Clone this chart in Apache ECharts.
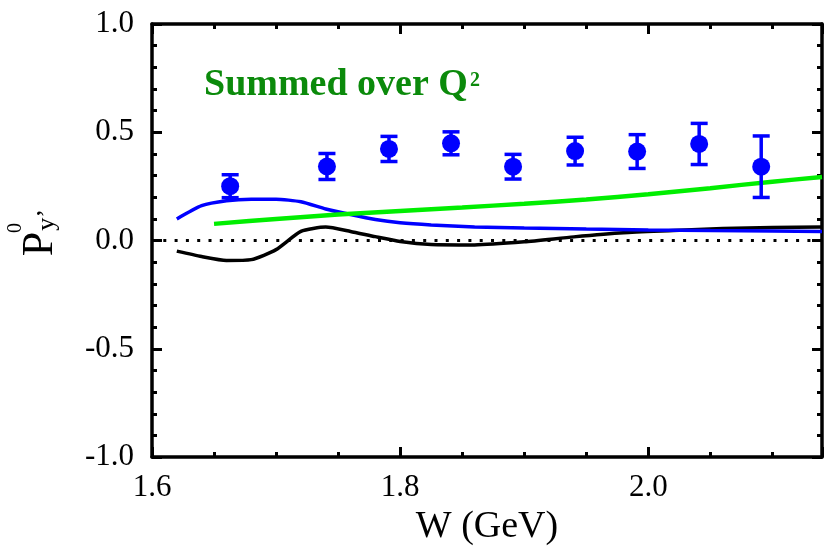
<!DOCTYPE html>
<html>
<head>
<meta charset="utf-8">
<style>
  html, body { margin: 0; padding: 0; background: #fff; }
  #chart { width: 825px; height: 551px; }
</style>
<script src="https://cdn.jsdelivr.net/npm/echarts@6/dist/echarts.min.js"></script>
</head>
<body>
<div id="chart"></div>
<script>
// Measured polarization P_y'^0 versus W, summed over Q^2
const dataW   = [1.663, 1.741, 1.791, 1.841, 1.891, 1.941, 1.991, 2.041, 2.091];
const dataP   = [0.251, 0.342, 0.423, 0.449, 0.341, 0.413, 0.411, 0.446, 0.341];
const dataErr = [0.053, 0.060, 0.058, 0.053, 0.057, 0.064, 0.078, 0.095, 0.142];

// Model curves
const blueW  = [1.620, 1.640, 1.660, 1.680, 1.700, 1.720, 1.740, 1.760, 1.780, 1.800, 1.825, 1.860, 1.900, 1.950, 2.000, 2.050, 2.100, 2.140];
const blueP  = [0.100, 0.161, 0.184, 0.191, 0.191, 0.179, 0.146, 0.120, 0.097, 0.082, 0.072, 0.063, 0.058, 0.053, 0.049, 0.046, 0.044, 0.042];

const blackW = [1.620, 1.640, 1.660, 1.680, 1.700, 1.720, 1.740, 1.760, 1.780, 1.800, 1.825, 1.860, 1.900, 1.940, 1.980, 2.020, 2.060, 2.100, 2.140];
const blackP = [-0.049, -0.074, -0.092, -0.088, -0.042, 0.042, 0.062, 0.042, 0.018, -0.004, -0.018, -0.020, -0.006, 0.017, 0.036, 0.046, 0.056, 0.060, 0.062];

const greenW = [1.65, 1.70, 1.75, 1.80, 1.85, 1.90, 1.95, 2.00, 2.05, 2.10, 2.14];
const greenP = [0.077, 0.100, 0.120, 0.137, 0.153, 0.170, 0.190, 0.214, 0.242, 0.272, 0.293];

// Axis ranges and tick steps
const xRange = [1.6, 2.14];
const yRange = [-1.0, 1.0];
const xMajor = 0.2, xMinor = 0.05;
const yMajor = 0.5, yMinor = 0.1;

const zip = (xs, ys) => xs.map((x, i) => [x, ys[i]]);
const FONT = '"Liberation Serif", "Times New Roman", serif';

const isMajor = (v, step) => Math.abs(v / step - Math.round(v / step)) < 1e-6;

function xAxisDef(pos, step, len, showLabel, withLine) {
  return {
    type: 'value', position: pos, min: xRange[0], max: xRange[1], interval: step,
    axisLine: { show: withLine, onZero: false, lineStyle: { color: '#000', width: 3.5 } },
    axisTick: { inside: true, length: len, lineStyle: { color: '#000', width: 3 } },
    axisLabel: {
      show: showLabel, margin: 15, color: '#000', fontFamily: FONT, fontSize: 31,
      formatter: v => isMajor(v, xMajor) ? v.toFixed(1) : ''
    },
    splitLine: { show: false }
  };
}
function yAxisDef(pos, step, len, showLabel, withLine) {
  return {
    type: 'value', position: pos, min: yRange[0], max: yRange[1], interval: step,
    axisLine: { show: withLine, onZero: false, lineStyle: { color: '#000', width: 3.5 } },
    axisTick: { inside: true, length: len, lineStyle: { color: '#000', width: 3 } },
    axisLabel: {
      show: showLabel, margin: 18, color: '#000', fontFamily: FONT, fontSize: 31,
      formatter: v => v.toFixed(1)
    },
    splitLine: { show: false }
  };
}

const xAxes = [
  xAxisDef('bottom', xMajor, 10, true, true),
  xAxisDef('bottom', xMinor, 5, false, false),
  xAxisDef('top', xMajor, 10, false, true),
  xAxisDef('top', xMinor, 5, false, false)
];
xAxes[0].name = 'W (GeV)';
xAxes[0].nameLocation = 'middle';
xAxes[0].nameGap = 48;
xAxes[0].nameTextStyle = { color: '#000', fontFamily: FONT, fontSize: 38 };

const yAxes = [
  yAxisDef('left', yMajor, 10, true, true),
  yAxisDef('left', yMinor, 5, false, false),
  yAxisDef('right', yMajor, 10, false, true),
  yAxisDef('right', yMinor, 5, false, false)
];

// Rotated axis title pieces: P with stacked superscript 0 and subscript y'
const rot = Math.PI / 2;
const nameText = (x, y, text, size) => ({
  type: 'text', x: x, y: y, rotation: rot, z: 10,
  style: { text: text, font: size + 'px ' + FONT, fill: '#000', align: 'center', verticalAlign: 'middle' }
});

const chart = echarts.init(document.getElementById('chart'), null, { renderer: 'canvas' });

chart.setOption({
  animation: false,
  backgroundColor: '#fff',
  grid: { left: 152, right: 3, top: 24, bottom: 90, containLabel: false },
  xAxis: xAxes,
  yAxis: yAxes,
  graphic: [
    {
      type: 'text', left: 204, top: 66, z: 10,
      style: { text: 'Summed over Q', font: 'bold 38px ' + FONT, fill: '#0b8a0b' }
    },
    {
      type: 'text', left: 470, top: 71, z: 10,
      style: { text: '2', font: 'bold 20px ' + FONT, fill: '#0b8a0b' }
    },
    nameText(40, 244, 'P', 44),
    nameText(16, 228, '0', 20),
    nameText(47, 220, 'y\u2019', 26)
  ],
  series: [
    {
      name: 'zero', type: 'line', data: [[xRange[0], 0], [xRange[1], 0]],
      symbol: 'none', silent: true,
      lineStyle: { color: '#000', width: 3, type: [3, 8.3] }, z: 1
    },
    {
      name: 'black', type: 'line', data: zip(blackW, blackP), symbol: 'none', smooth: 0.2,
      lineStyle: { color: '#000', width: 3.5 }, z: 2
    },
    {
      name: 'blue', type: 'line', data: zip(blueW, blueP), symbol: 'none', smooth: 0.2,
      lineStyle: { color: '#0000ff', width: 3.5 }, z: 3
    },
    {
      name: 'green', type: 'line', data: zip(greenW, greenP), symbol: 'none', smooth: 0.3,
      lineStyle: { color: '#00ee00', width: 4.5 }, z: 4
    },
    {
      name: 'errors', type: 'custom', z: 5,
      data: dataW.map((w, i) => [w, dataP[i] - dataErr[i], dataP[i] + dataErr[i]]),
      renderItem: function (params, api) {
        const lo = api.coord([api.value(0), api.value(1)]);
        const hi = api.coord([api.value(0), api.value(2)]);
        const half = 8.5;
        const st = { stroke: '#0000ff', lineWidth: 3.5 };
        return {
          type: 'group',
          children: [
            { type: 'line', shape: { x1: lo[0], y1: lo[1], x2: hi[0], y2: hi[1] }, style: st },
            { type: 'line', shape: { x1: lo[0] - half, y1: lo[1], x2: lo[0] + half, y2: lo[1] }, style: st },
            { type: 'line', shape: { x1: hi[0] - half, y1: hi[1], x2: hi[0] + half, y2: hi[1] }, style: st }
          ]
        };
      }
    },
    {
      name: 'data', type: 'scatter', z: 6, data: zip(dataW, dataP),
      symbol: 'circle', symbolSize: 18,
      itemStyle: { color: '#0000ff', opacity: 1 }
    }
  ]
});
</script>
</body>
</html>
